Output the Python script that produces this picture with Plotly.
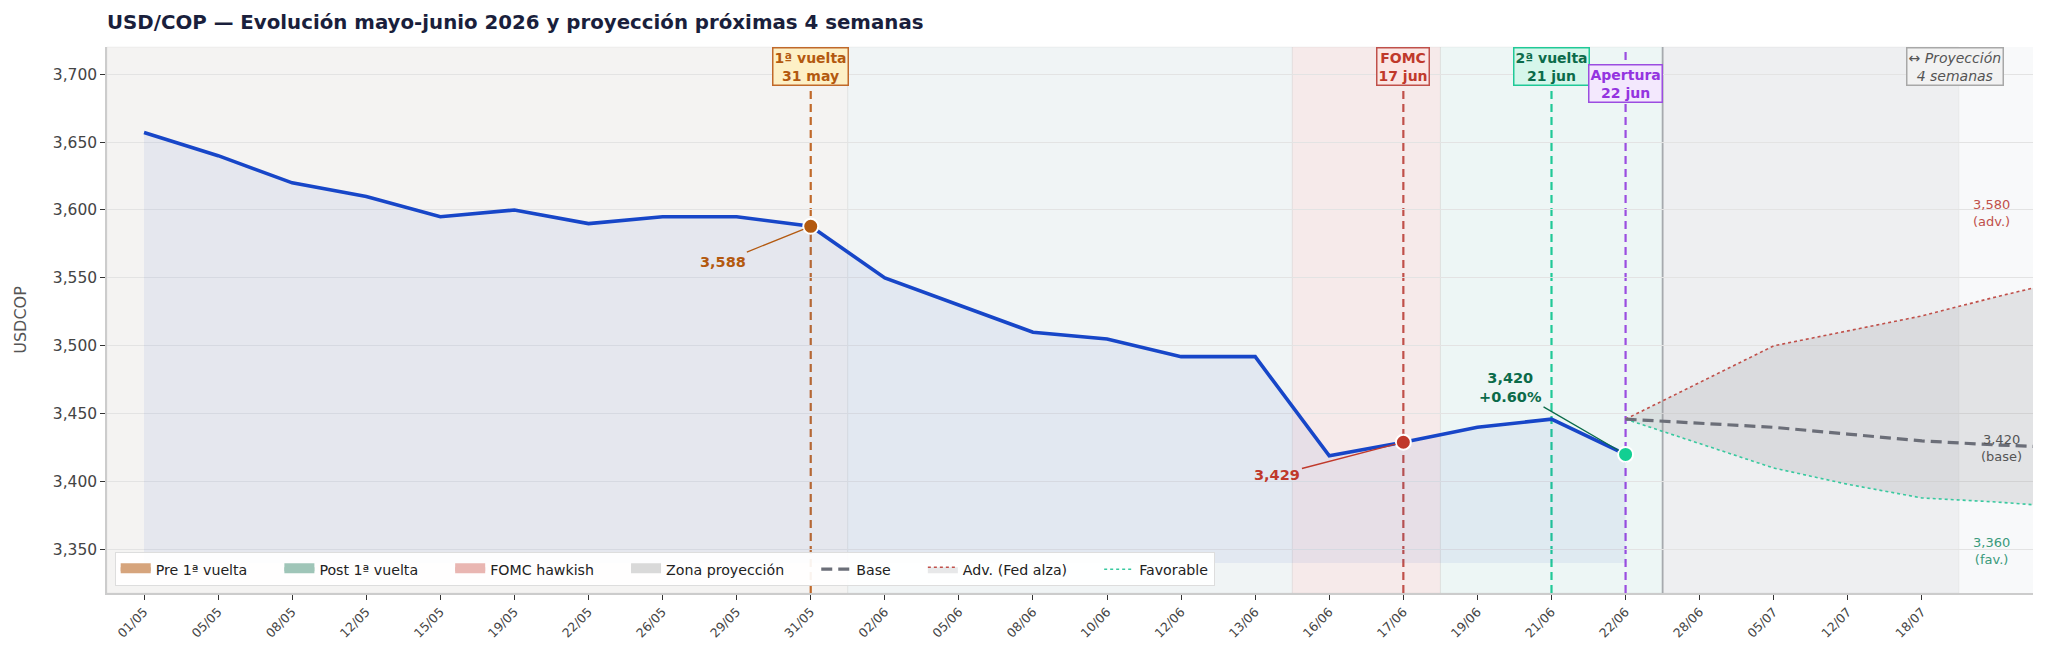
import plotly.graph_objects as go

# x axis is categorical-by-index: observed days, then weekly projection dates
tick_labels = ["01/05", "05/05", "08/05", "12/05", "15/05", "19/05", "22/05", "26/05",
               "29/05", "31/05", "02/06", "05/06", "08/06", "10/06", "12/06", "13/06",
               "16/06", "17/06", "19/06", "21/06", "22/06", "28/06", "05/07", "12/07", "18/07"]

hist_idx = list(range(21))
hist_usdcop = [3657, 3640, 3620, 3610, 3595, 3600, 3590, 3595, 3595, 3588,
               3550, 3530, 3510, 3505, 3492, 3492, 3419, 3429, 3440, 3446, 3420]

proj_idx = [20, 21, 22, 23, 24, 25, 26]
proj_base = [3446, 3443, 3440, 3435, 3430, 3427, 3425]
proj_adv = [3446, 3473, 3500, 3511, 3522, 3536, 3549]
proj_fav = [3446, 3428, 3410, 3398, 3388, 3385, 3381]

FILL_BASE = 3340

# key events: index, value
ev_1v = (9, 3588)
ev_fomc = (17, 3429)
ev_open = (20, 3420)

FONT = "DejaVu Sans"
BLUE = "#1746c8"
ORANGE = "#c0692a"
RED = "#c0392b"
GREEN = "#20c997"
DKGREEN = "#0b6b4a"
PURPLE = "#9b4de0"

# the page body adds an 8px offset, so the figure is drawn 8px smaller
W, H = 2038, 646
PAD = "\u00a0" * 6  # extra gap after legend labels

fig = go.Figure()

# blue area under the observed series
fig.add_trace(go.Scatter(x=hist_idx, y=[FILL_BASE] * len(hist_idx), mode="lines",
                         line=dict(width=0), showlegend=False, hoverinfo="skip"))
fig.add_trace(go.Scatter(x=hist_idx, y=hist_usdcop, mode="lines", fill="tonexty",
                         fillcolor="rgba(40,80,200,0.07)",
                         line=dict(color=BLUE, width=3.6), showlegend=False))

# projection fan
fig.add_trace(go.Scatter(x=proj_idx, y=proj_fav, mode="lines",
                         line=dict(color="#38c99f", width=1.6, dash="dot"),
                         name="Favorable", legendrank=7))
fig.add_trace(go.Scatter(x=proj_idx, y=proj_adv, mode="lines", fill="tonexty",
                         fillcolor="rgba(150,150,155,0.22)",
                         line=dict(color="#c0504a", width=1.6, dash="dot"),
                         name="Adv. (Fed alza)" + PAD, legendrank=6))
fig.add_trace(go.Scatter(x=proj_idx, y=proj_base, mode="lines",
                         line=dict(color="#6b6e78", width=3.2, dash="11px,6px"),
                         name="Base" + PAD, legendrank=5))

# event markers
for (xi, yi), col in [(ev_1v, "#b3590f"), (ev_fomc, RED), (ev_open, "#12cf92")]:
    fig.add_trace(go.Scatter(x=[xi], y=[yi], mode="markers", showlegend=False,
                             marker=dict(size=15, color=col, line=dict(color="white", width=2))))

# legend patches for shaded zones
for name, col, rk in [("Pre 1ª vuelta", "#d6a47c", 1), ("Post 1ª vuelta", "#9fc5b8", 2),
                      ("FOMC hawkish", "#e9b6b2", 3), ("Zona proyección", "#d9d9d9", 4)]:
    fig.add_trace(go.Scatter(x=[None], y=[None], mode="lines", fill="toself",
                             fillcolor=col, line=dict(width=8, color=col),
                             name=name + PAD, legendrank=rk))

# shaded zones
zones = [(-0.5, 9.5, "rgba(200,170,140,0.07)"),
         (9.5, 15.5, "rgba(150,185,190,0.08)"),
         (15.5, 17.5, "rgba(233,150,145,0.14)"),
         (17.5, 20.5, "rgba(32,201,151,0.05)"),
         (20.5, 24.5, "rgba(190,192,196,0.17)")]
for x0, x1, col in zones:
    fig.add_shape(type="rect", xref="x", yref="paper", x0=x0, x1=x1, y0=0, y1=1,
                  fillcolor=col, line=dict(width=1, color="rgba(0,0,0,0.04)"), layer="below")

# event lines
for xi, col in [(9, ORANGE), (17, "#c0504a"), (19, GREEN), (20, PURPLE)]:
    fig.add_shape(type="line", xref="x", yref="paper", x0=xi, x1=xi, y0=0, y1=1,
                  line=dict(color=col, width=2.2, dash="8px,5px"), layer="between")
fig.add_shape(type="line", xref="x", yref="paper", x0=20.5, x1=20.5, y0=0, y1=1,
              line=dict(color="#a6aaae", width=1.8), layer="between")

# event boxes
boxes = [(9, 3706, "<b>1ª vuelta<br>31 may</b>", "#b3590f", "#fdf0c6", ORANGE),
         (17, 3706, "<b>FOMC<br>17 jun</b>", RED, "#fbe6e4", "#c0504a"),
         (19, 3706, "<b>2ª vuelta<br>21 jun</b>", DKGREEN, "#d6f6eb", GREEN),
         (20, 3693, "<b>Apertura<br>22 jun</b>", "#9433e0", "#f3e8fd", PURPLE)]
for xi, yi, txt, fc, bg, bc in boxes:
    fig.add_annotation(x=xi, y=yi, text=txt, showarrow=False, xanchor="center", yanchor="middle",
                       font=dict(family=FONT, size=14, color=fc), bgcolor=bg,
                       bordercolor=bc, borderwidth=1.5, borderpad=1)
fig.add_annotation(x=24.45, y=3706, text="<i>↔ Proyección<br>4 semanas</i>", showarrow=False,
                   font=dict(family=FONT, size=14, color="#555"), bgcolor="#f2f2f2",
                   bordercolor="#a8a8a8", borderwidth=1.5, borderpad=1)

# value callouts
fig.add_annotation(x=ev_1v[0], y=ev_1v[1], ax=7.82, ay=3562, axref="x", ayref="y",
                   text="<b>3,588</b>", showarrow=True, arrowhead=0, arrowwidth=1.3,
                   arrowcolor="#b3590f", standoff=8,
                   font=dict(family=FONT, size=14.5, color="#b3590f"))
fig.add_annotation(x=ev_fomc[0], y=ev_fomc[1], ax=15.3, ay=3405, axref="x", ayref="y",
                   text="<b>3,429</b>", showarrow=True, arrowhead=0, arrowwidth=1.3,
                   arrowcolor=RED, standoff=8,
                   font=dict(family=FONT, size=14.5, color=RED))
fig.add_annotation(x=ev_open[0], y=ev_open[1], ax=18.45, ay=3469, axref="x", ayref="y",
                   text="<b>3,420<br>+0.60%</b>", showarrow=True, arrowhead=0, arrowwidth=1.3,
                   arrowcolor=DKGREEN, standoff=8,
                   font=dict(family=FONT, size=14.5, color=DKGREEN))

# scenario end labels
for xi, yi, txt, col in [(24.94, 3598, "3,580<br>(adv.)", "#c0504a"),
                         (25.07, 3425, "3,420<br>(base)", "#555"),
                         (24.94, 3349, "3,360<br>(fav.)", "#3a9a7a")]:
    fig.add_annotation(x=xi, y=yi, text=txt, showarrow=False,
                       font=dict(family=FONT, size=13, color=col))

fig.update_layout(
    width=W, height=H,
    margin=dict(l=99, r=13, t=39, b=61),
    paper_bgcolor="white", plot_bgcolor="#f8f9fa",
    font=dict(family=FONT, color="#333"),
    title=dict(text="<b>USD/COP — Evolución mayo-junio 2026 y proyección próximas 4 semanas</b>",
               x=99 / W, xanchor="left", xref="container",
               y=1 - 14 / H, yanchor="middle", yref="container",
               font=dict(family=FONT, size=19.8, color="#1a1f3c")),
    legend=dict(orientation="h", x=0.004, y=0.012, xanchor="left", yanchor="bottom",
                bgcolor="rgba(255,255,255,0.92)", bordercolor="#dddddd", borderwidth=1,
                font=dict(family=FONT, size=14.2, color="#222"), traceorder="normal"),
    showlegend=True,
)
fig.update_xaxes(range=[-0.5, 25.5], tickvals=list(range(len(tick_labels))), ticktext=tick_labels,
                 tickangle=-45, tickfont=dict(family=FONT, size=12.5, color="#444"),
                 showgrid=False, zeroline=False, showline=True, linecolor="#cccccc", linewidth=1.5,
                 ticks="outside", ticklen=5, tickcolor="#333", automargin=False)
fig.update_yaxes(range=[3318, 3720], dtick=50, tickformat=",d",
                 tickfont=dict(family=FONT, size=15.5, color="#444"),
                 showgrid=True, gridcolor="#e3e3e3", gridwidth=1, zeroline=False,
                 showline=True, linecolor="#cccccc", linewidth=1.5,
                 ticks="outside", ticklen=5, tickcolor="#333", automargin=False,
                 title=dict(text="USDCOP", font=dict(family=FONT, size=16, color="#555"), standoff=22))

fig.write_html("out.html")
